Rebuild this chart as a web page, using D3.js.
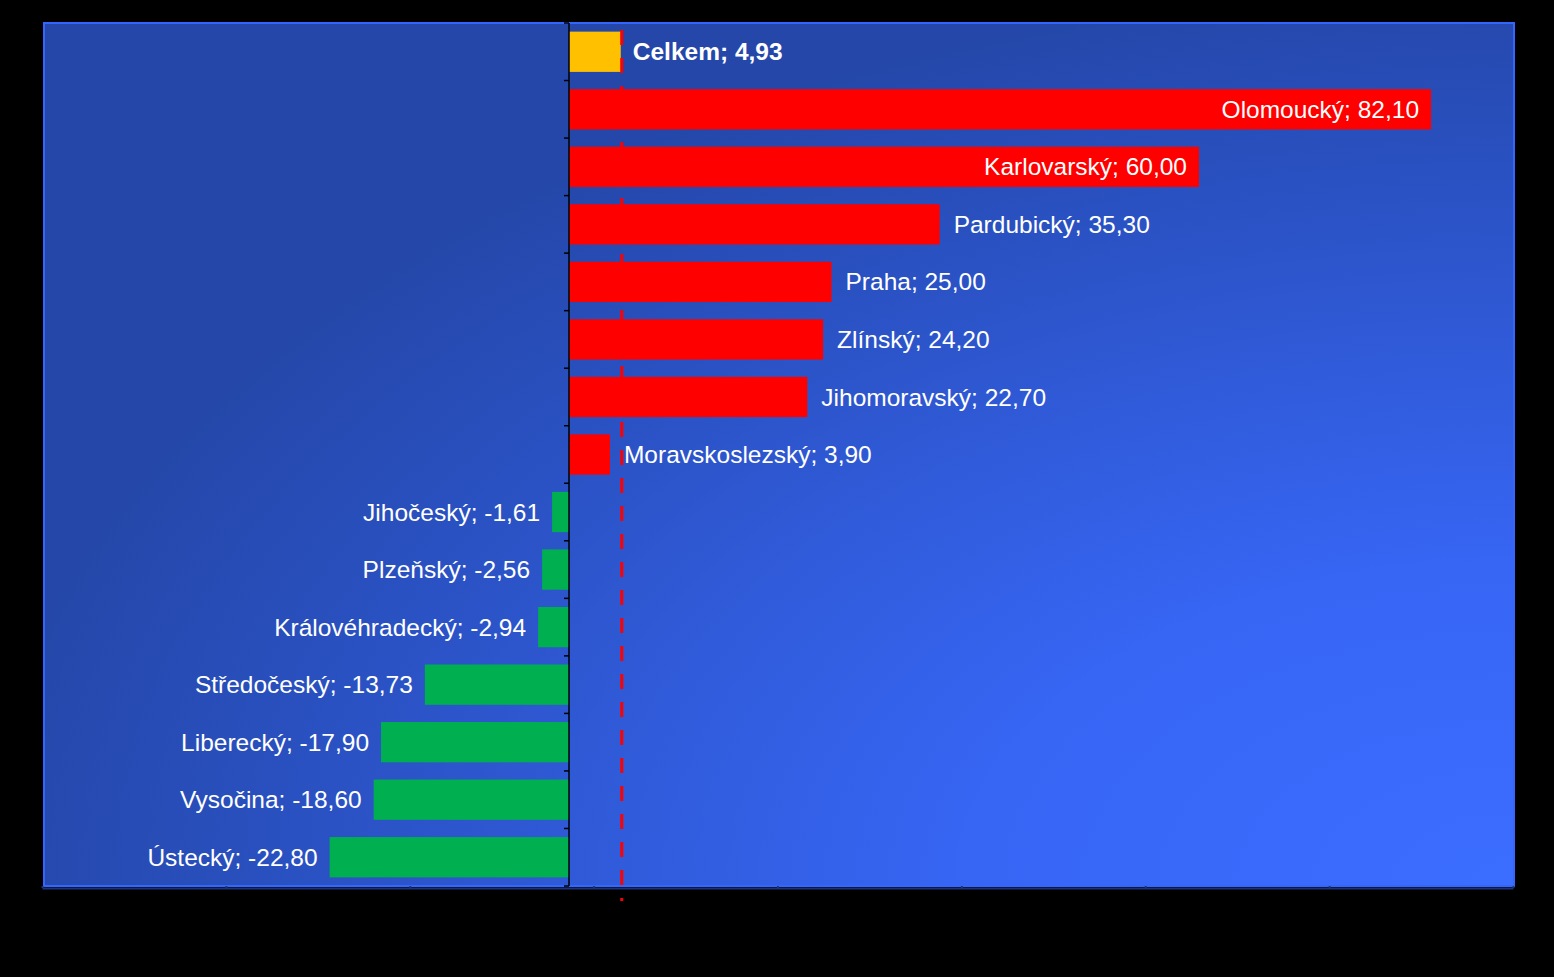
<!DOCTYPE html>
<html>
<head>
<meta charset="utf-8">
<script src="https://cdn.jsdelivr.net/npm/d3@7"></script>
<style>
  body { margin: 0; background: #000; }
  svg { display: block; }
  text { font-family: "Liberation Sans", Arial, sans-serif; }
</style>
</head>
<body>
<svg class="chart"></svg>
<script>
let width = 1554, height = 977;
let plot = { left: 44, top: 23, right: 1514, bottom: 886 };

// data
let regions = ["Celkem", "Olomoucký", "Karlovarský", "Pardubický", "Praha", "Zlínský",
  "Jihomoravský", "Moravskoslezský", "Jihočeský", "Plzeňský", "Královéhradecký",
  "Středočeský", "Liberecký", "Vysočina", "Ústecký"];
let values = [4.93, 82.10, 60.00, 35.30, 25.00, 24.20, 22.70, 3.90, -1.61, -2.56, -2.94,
  -13.73, -17.90, -18.60, -22.80];
let xDomain = [-50, 90];
let bottomTicks = [0, 1, 2, 3, 4, 5, 6, 7, 8];

let data = regions.map((r, i) => ({ name: r, value: values[i], total: i === 0 }));
let fmt = v => d3.format(".2f")(v).replace("−", "-").replace(".", ",");

let svg = d3.select(".chart").attr("width", width).attr("height", height);

// background gradient of the plot area
let defs = svg.append("defs");
let grad = defs.append("radialGradient")
  .attr("id", "bg")
  .attr("cx", 1).attr("cy", 1).attr("r", 1.05)
  .attr("fx", 1).attr("fy", 1);
grad.append("stop").attr("offset", "0%").attr("stop-color", "#3b6dff");
grad.append("stop").attr("offset", "35%").attr("stop-color", "#3766f5");
grad.append("stop").attr("offset", "100%").attr("stop-color", "#2447a9");

svg.append("rect")
  .attr("x", plot.left).attr("y", plot.top)
  .attr("width", plot.right - plot.left).attr("height", plot.bottom - plot.top)
  .attr("fill", "url(#bg)")
  .attr("stroke", "#3366ff")
  .attr("stroke-width", 2);

// scales
let x = d3.scaleLinear().domain(xDomain).range([plot.left, plot.right]);
let y = d3.scaleBand().domain(regions).range([plot.top, plot.bottom])
  .paddingInner(0.3).paddingOuter(0.15);

// bottom axis (no labels)
let xb = d3.scaleLinear().domain([0, 8]).range([plot.left - 2, plot.right - 1]);
let bottomAxis = svg.append("g")
  .attr("transform", "translate(0," + (plot.bottom + 2) + ")")
  .call(d3.axisBottom(xb).tickValues(bottomTicks).tickSize(-2).tickSizeOuter(0).tickFormat(""));
bottomAxis.selectAll("path, line").attr("stroke", "#1d3278").attr("stroke-width", 2);

// bars
svg.append("g").selectAll("rect")
  .data(data)
  .join("rect")
  .attr("x", d => x(Math.min(0, d.value)))
  .attr("y", d => y(d.name))
  .attr("width", d => Math.abs(x(d.value) - x(0)))
  .attr("height", y.bandwidth())
  .attr("fill", d => d.total ? "#ffc000" : (d.value >= 0 ? "#ff0000" : "#00b050"));

// vertical axis at zero
let band = y.step();
let yAxis = svg.append("g")
  .attr("transform", "translate(" + x(0) + ",0)");
yAxis.append("line")
  .attr("x1", 0).attr("x2", 0)
  .attr("y1", plot.top).attr("y2", plot.bottom)
  .attr("stroke", "#000").attr("stroke-width", 1.5);
yAxis.selectAll(".tick")
  .data(d3.range(regions.length + 1))
  .join("line")
  .attr("x1", -5).attr("x2", 0)
  .attr("y1", i => plot.top + i * band)
  .attr("y2", i => plot.top + i * band)
  .attr("stroke", "#000").attr("stroke-width", 1.5);

// dashed line at the total
svg.append("line")
  .attr("x1", x(values[0]) + 1).attr("x2", x(values[0]) + 1)
  .attr("y1", 30).attr("y2", 901)
  .attr("stroke", "#ff0000")
  .attr("stroke-width", 3)
  .attr("stroke-dasharray", "15,13");

// labels
svg.append("g").selectAll("text")
  .data(data)
  .join("text")
  .attr("x", d => {
    if (d.total) return x(d.value) + 12;
    if (d.value > 50) return x(d.value) - 12;
    if (d.value >= 0) return x(d.value) + 14;
    return x(d.value) - 12;
  })
  .attr("y", d => y(d.name) + y.bandwidth() / 2)
  .attr("dy", "0.35em")
  .attr("text-anchor", d => (d.value < 0 || d.value > 50) ? "end" : "start")
  .attr("fill", "#fff")
  .attr("font-size", "24.5px")
  .attr("font-weight", d => d.total ? "bold" : "normal")
  .text(d => d.name + "; " + fmt(d.value));
</script>
</body>
</html>
